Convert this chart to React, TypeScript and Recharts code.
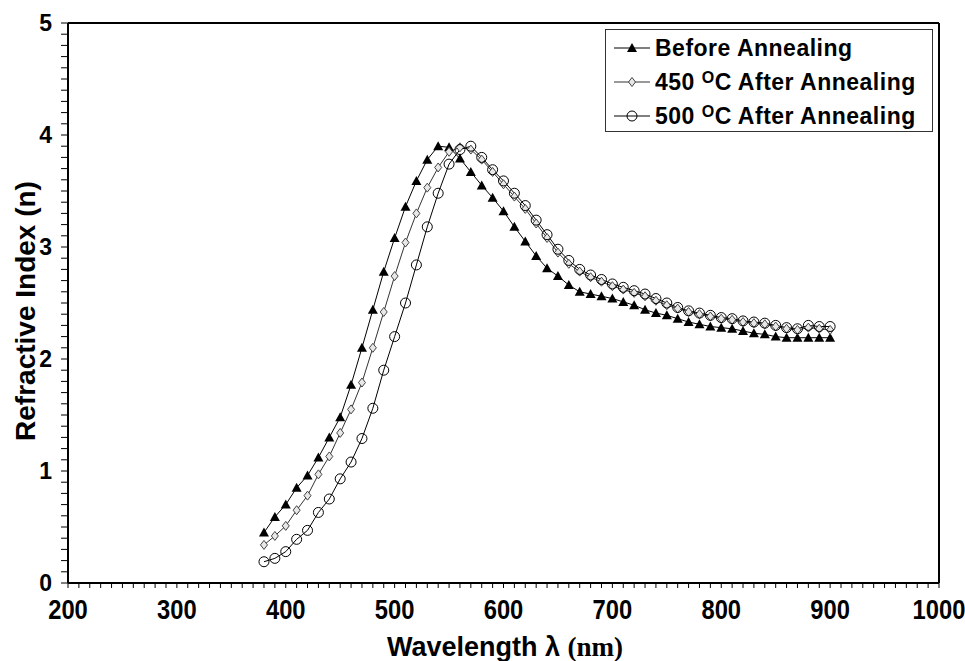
import { Label, Line, LineChart, ReferenceLine, XAxis, YAxis } from "recharts";

const wavelengths = [
  380, 390, 400, 410, 420, 430, 440, 450, 460, 470, 480, 490, 500, 510, 520, 530, 540, 550,
  560, 570, 580, 590, 600, 610, 620, 630, 640, 650, 660, 670, 680, 690, 700, 710, 720, 730,
  740, 750, 760, 770, 780, 790, 800, 810, 820, 830, 840, 850, 860, 870, 880, 890, 900,
];

const beforeAnnealing = [
  0.45, 0.59, 0.7, 0.85, 0.96, 1.12, 1.3, 1.48, 1.77, 2.1, 2.44, 2.78, 3.08, 3.36, 3.59, 3.78,
  3.9, 3.89, 3.79, 3.67, 3.55, 3.44, 3.32, 3.18, 3.05, 2.92, 2.81, 2.74, 2.66, 2.6, 2.58, 2.56,
  2.54, 2.51, 2.48, 2.44, 2.41, 2.39, 2.36, 2.33, 2.31, 2.29, 2.28, 2.27, 2.25, 2.23, 2.22, 2.2,
  2.19, 2.19, 2.19, 2.19, 2.19,
];

const after450 = [
  0.34, 0.42, 0.51, 0.65, 0.78, 0.97, 1.13, 1.34, 1.55, 1.79, 2.1, 2.42, 2.74, 3.04, 3.3, 3.53,
  3.71, 3.85, 3.89, 3.87, 3.78, 3.67, 3.56, 3.45, 3.34, 3.21, 3.08, 2.95, 2.85, 2.78, 2.73, 2.69,
  2.65, 2.62, 2.59, 2.56, 2.52, 2.48, 2.45, 2.42, 2.4, 2.38, 2.36, 2.35, 2.33, 2.32, 2.31, 2.29,
  2.27, 2.26, 2.28, 2.27, 2.26,
];

const after500 = [
  0.19, 0.22, 0.28, 0.39, 0.47, 0.63, 0.75, 0.93, 1.08, 1.29, 1.56, 1.9, 2.2, 2.5, 2.84, 3.18,
  3.48, 3.74, 3.87, 3.9, 3.8, 3.69, 3.59, 3.48, 3.37, 3.24, 3.11, 2.98, 2.88, 2.8, 2.75, 2.71,
  2.67, 2.64, 2.61, 2.58, 2.54, 2.5, 2.46, 2.43, 2.41, 2.39, 2.37, 2.36, 2.34, 2.33, 2.32, 2.3,
  2.28, 2.27, 2.3, 2.29, 2.29,
];

const xLabels = [200, 300, 400, 500, 600, 700, 800, 900, 1000];
const yLabels = [0, 1, 2, 3, 4, 5];

// minor ticks every 10 nm / 0.1 units, labels only on the majors
const xTicks = Array.from({ length: 81 }, (_, i) => 200 + i * 10);
const yTicks = Array.from({ length: 51 }, (_, i) => i / 10);

const data = wavelengths.map((w, i) => ({
  wavelength: w,
  before: beforeAnnealing[i],
  t450: after450[i],
  t500: after500[i],
}));

const SANS = "'Liberation Sans', Arial, sans-serif";

const Triangle = ({ cx, cy }: { cx: number; cy: number }) => (
  <path d={`M${cx},${cy - 5} L${cx + 5},${cy + 4} L${cx - 5},${cy + 4} Z`} fill="#000" />
);
const Diamond = ({ cx, cy }: { cx: number; cy: number }) => (
  <path
    d={`M${cx},${cy - 4.5} L${cx + 3.5},${cy} L${cx},${cy + 4.5} L${cx - 3.5},${cy} Z`}
    fill="#e8e8e8"
    stroke="#444"
    strokeWidth={1}
  />
);
const Ring = ({ cx, cy }: { cx: number; cy: number }) => (
  <circle cx={cx} cy={cy} r={5} fill="none" stroke="#000" strokeWidth={1} />
);

const triangleDot = (p: any) => <Triangle key={`tr-${p.index}`} cx={p.cx} cy={p.cy} />;
const diamondDot = (p: any) => <Diamond key={`di-${p.index}`} cx={p.cx} cy={p.cy} />;
const ringDot = (p: any) => <Ring key={`ri-${p.index}`} cx={p.cx} cy={p.cy} />;

// x labels in the original are tall and condensed
function XTick({ x, y, payload }: any) {
  const v = payload.value;
  if (!xLabels.includes(v)) return null;
  return (
    <g transform={`translate(${x},${y})`}>
      <text
        transform="scale(0.88,1)"
        textAnchor="middle"
        dy="0.72em"
        fontSize={27}
        fontWeight="bold"
        fontFamily={SANS}
        fill="#000"
      >
        {v}
      </text>
    </g>
  );
}

function LegendRow({ marker, children }: { marker: "tri" | "dia" | "ring"; children: React.ReactNode }) {
  return (
    <div style={{ display: "flex", alignItems: "center", height: 34 }}>
      <svg width={40} height={20} style={{ marginRight: 3 }}>
        <line x1={2} y1={10} x2={38} y2={10} stroke={marker === "dia" ? "#333" : "#000"} strokeWidth={1} />
        {marker === "tri" && <Triangle cx={20} cy={10} />}
        {marker === "dia" && <Diamond cx={20} cy={10} />}
        {marker === "ring" && <Ring cx={20} cy={10} />}
      </svg>
      <span>{children}</span>
    </div>
  );
}

export default function App() {
  return (
    <div style={{ position: "fixed", left: 0, top: 0, width: 965, height: 661, background: "#fff" }}>
      <LineChart width={965} height={661} data={data} margin={{ top: 23, right: 26, left: 0, bottom: 0 }}>
        <XAxis
          dataKey="wavelength"
          type="number"
          domain={[200, 1000]}
          ticks={xTicks}
          interval={0}
          tick={<XTick />}
          tickSize={5}
          tickMargin={12}
          height={78}
          stroke="#000"
          axisLine={{ stroke: "#000", strokeWidth: 2 }}
          tickLine={{ stroke: "#000", strokeWidth: 1 }}
        >
          <Label
            content={() => (
              <text x={505} y={656} textAnchor="middle" fontWeight="bold" fontSize={27} fill="#000">
                <tspan fontFamily={SANS}>Wavelength λ </tspan>
                <tspan fontFamily="'Liberation Serif', 'Times New Roman', serif">(nm)</tspan>
              </text>
            )}
          />
        </XAxis>
        <YAxis
          type="number"
          domain={[0, 5]}
          ticks={yTicks}
          interval={0}
          tickFormatter={(v: number) => (yLabels.includes(v) ? String(v) : "")}
          tick={{ fontSize: 23, fontWeight: "bold", fill: "#000", fontFamily: SANS }}
          tickSize={7}
          tickMargin={9}
          width={68}
          stroke="#000"
          axisLine={{ stroke: "#000", strokeWidth: 2 }}
          tickLine={{ stroke: "#000", strokeWidth: 1 }}
        >
          <Label
            content={() => (
              <text
                x={25}
                y={311}
                transform="rotate(-90 25 311)"
                textAnchor="middle"
                dominantBaseline="central"
                fontWeight="bold"
                fontSize={28}
                fontFamily={SANS}
                fill="#000"
              >
                Refractive Index (n)
              </text>
            )}
          />
        </YAxis>
        <ReferenceLine y={5} stroke="#000" strokeWidth={2} />
        <ReferenceLine x={1000} stroke="#000" strokeWidth={2} />
        <Line type="linear" dataKey="before" stroke="#000" strokeWidth={1} dot={triangleDot} isAnimationActive={false} />
        <Line type="linear" dataKey="t450" stroke="#333" strokeWidth={1} dot={diamondDot} isAnimationActive={false} />
        <Line type="linear" dataKey="t500" stroke="#000" strokeWidth={1} dot={ringDot} isAnimationActive={false} />
      </LineChart>
      <div
        style={{
          position: "absolute",
          left: 605,
          top: 29,
          width: 328,
          height: 103,
          border: "1px solid #333",
          background: "#fff",
          fontFamily: SANS,
          fontWeight: "bold",
          fontSize: 23,
          letterSpacing: 0.5,
          color: "#000",
          padding: "1px 0 0 6px",
          boxSizing: "border-box",
          whiteSpace: "nowrap",
        }}
      >
        <LegendRow marker="tri">Before Annealing</LegendRow>
        <LegendRow marker="dia">
          450 <sup style={{ fontSize: 16, verticalAlign: "7px" }}>O</sup>C After Annealing
        </LegendRow>
        <LegendRow marker="ring">
          500 <sup style={{ fontSize: 16, verticalAlign: "7px" }}>O</sup>C After Annealing
        </LegendRow>
      </div>
    </div>
  );
}
